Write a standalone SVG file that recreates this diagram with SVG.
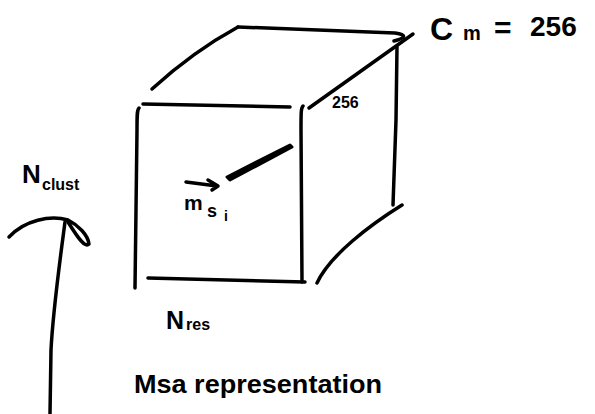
<svg xmlns="http://www.w3.org/2000/svg" width="595" height="414" viewBox="0 0 595 414">
<style>
.s{fill:none;stroke:#000;stroke-width:3.5;stroke-linecap:round;stroke-linejoin:round}
.t{font-family:"Liberation Sans",Arial,sans-serif;fill:#000;font-weight:bold}
</style>
<rect width="595" height="414" fill="#fff"/>
<g id="cube">
<path class="s" d="M152,89 C175,68 205,45 238,27"/>
<path class="s" d="M238,27 L395,33 C408,35 405,38 394,41"/>
<path class="s" d="M413,34 L309,108"/>
<path class="s" d="M397,47 L396,120 L393,205"/>
<path class="s" d="M402,205 C370,225 330,255 317,283"/>
<path class="s" d="M143,104 L290,107"/>
<path class="s" d="M139,108 C137,110 137,115 137,130 L136,210 L135,288"/>
<path class="s" d="M303,106 C301,108 301,112 301,130 L302,282"/>
<path class="s" d="M148,278 L305,282"/>
<path d="M227,177 L290,145 L292,147 L230,180 Z" fill="#000" stroke="#000" stroke-width="3" stroke-linejoin="round"/>
</g>
<g id="label-depth">
<text class="t" x="332" y="108" font-size="16">256</text>
</g>
<g id="label-cm">
<text class="t" x="430" y="40" font-size="32">C</text>
<text class="t" x="463" y="40" font-size="20">m</text>
<text class="t" x="494" y="38" font-size="30">=</text>
<text class="t" x="530" y="36" font-size="28">256</text>
</g>
<g id="label-msi">
<path class="s" d="M186,182 L217,186 M208,180 L218,186 L212,190" stroke-width="3"/>
<text class="t" x="184" y="210" font-size="21">m</text>
<text class="t" x="207" y="217" font-size="18">s</text>
<text class="t" x="224" y="221" font-size="14">i</text>
</g>
<g id="label-nclust">
<text class="t" x="22" y="183" font-size="26">N</text>
<text class="t" x="42" y="190" font-size="16">clust</text>
</g>
<g id="label-nres">
<text class="t" x="166" y="329" font-size="25">N</text>
<text class="t" x="186" y="330" font-size="16">res</text>
</g>
<g id="label-title">
<text class="t" x="134" y="393" font-size="25" textLength="248" lengthAdjust="spacingAndGlyphs">Msa representation</text>
</g>
<g id="connectors">
<path class="s" d="M9,237 C25,220 50,215 68,220 C78,225 88,235 89,244 C85,248 78,238 68,222"/>
<path class="s" d="M65,222 C60,260 53,310 51,350 L50,414"/>
</g>
</svg>
